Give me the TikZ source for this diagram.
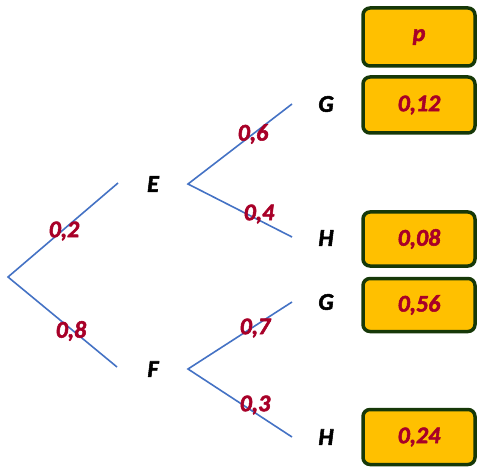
\documentclass[tikz,border=0pt]{standalone}
\usepackage{fontspec}
\setmainfont{Carlito}[BoldItalicFeatures={FakeBold=2.2}]
\definecolor{branch}{RGB}{68,114,196}
\definecolor{prob}{RGB}{168,0,40}
\definecolor{boxfill}{RGB}{255,192,0}
\definecolor{boxline}{RGB}{22,56,8}
\tikzset{
  br/.style={draw=branch, line width=1.6bp},
  ev/.style={font=\fontsize{24}{24}\selectfont\bfseries\itshape, text=black, inner sep=0pt},
  pr/.style={font=\fontsize{24}{24}\selectfont\bfseries\itshape, text=prob, inner sep=0pt},
  res/.style={draw=boxline, fill=boxfill, line width=3.5bp, rounded corners=7bp,
    minimum width=112bp, minimum height=56bp, inner sep=0pt,
    font=\fontsize{24}{24}\selectfont\bfseries\itshape, text=prob}
}
\begin{document}
\begin{tikzpicture}[x=1bp,y=-1bp]
\useasboundingbox (0,0) rectangle (479,468);
% tree points
\coordinate (r) at (8,277);
\coordinate (e1) at (118,183);
\coordinate (f1) at (117,367);
\coordinate (e2) at (188,184);
\coordinate (f2) at (188,369);
\coordinate (eg) at (292,104);
\coordinate (eh) at (292,237);
\coordinate (fg) at (292,302);
\coordinate (fh) at (292,437);
\draw[br] (e1) -- (r) -- (f1);
\draw[br] (eg) -- (e2) -- (eh);
\draw[br] (fg) -- (f2) -- (fh);
% event labels
\node[ev] (E) at (153,184) {E};
\node[ev] (F) at (153,369) {F};
\node[ev] (G1) at (326,104) {G};
\node[ev] (H1) at (326,238) {H};
\node[ev] (G2) at (326,302) {G};
\node[ev] (H2) at (326,437) {H};
% probabilities
\node[pr] (p02) at (64,231) {0,2};
\node[pr] (p08) at (71,331) {0,8};
\node[pr] (p06) at (253,134) {0,6};
\node[pr] (p04) at (259,214) {0,4};
\node[pr] (p07) at (255,328) {0,7};
\node[pr] (p03) at (255,405) {0,3};
% result boxes
\node[res, minimum height=58bp] (bp) at (419,37) {p};
\node[res, minimum height=56bp] (b1) at (419,105) {0,12};
\node[res, minimum height=54bp] (b2) at (419,239) {0,08};
\node[res, minimum height=53bp] (b3) at (419,305) {0,56};
\node[res, minimum height=55bp] (b4) at (419,437) {0,24};
\end{tikzpicture}
\end{document}
